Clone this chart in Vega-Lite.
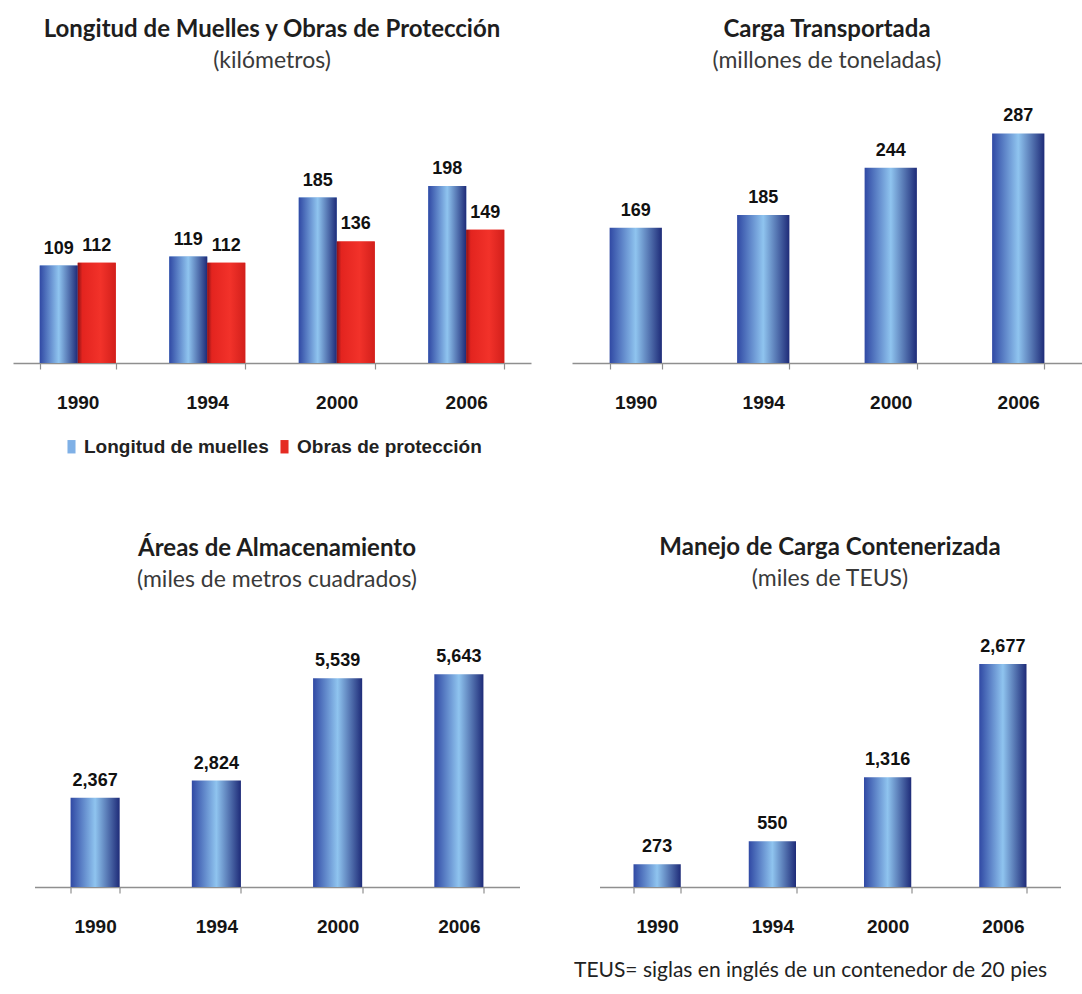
{
  "$schema": "https://vega.github.io/schema/vega-lite/v6.json",
  "background": "white",
  "padding": {"left": 13, "top": 18, "right": 0, "bottom": 5},
  "config": {
    "view": {"stroke": null},
    "font": "Lato",
    "axis": {
      "domainColor": "#8f8f8f", "domainWidth": 1.5,
      "tickColor": "#8f8f8f", "tickSize": 6, "tickWidth": 1.2, "tickBand": "extent",
      "labelFont": "Liberation Sans", "labelFontSize": 19, "labelFontWeight": "bold", "labelColor": "#151515",
      "labelPadding": 24, "grid": false, "labelAngle": 0
    },
    "title": {
      "font": "Lato", "fontSize": 24, "fontWeight": "bold", "color": "#1e1e1e",
      "subtitleFont": "Lato", "subtitleFontSize": 23, "subtitleColor": "#3a3a3a",
      "subtitlePadding": 8, "anchor": "middle", "frame": "group"
    },
    "legend": {
      "labelFont": "Liberation Sans", "labelFontSize": 19, "labelFontWeight": "bold", "labelColor": "#222222",
      "layout": {"bottom": {"anchor": "middle"}}
    }
  },
  "datasets": {
    "muelles": [
      {"anio": "1990", "serie": "Longitud de muelles", "valor": 109},
      {"anio": "1990", "serie": "Obras de protección", "valor": 112},
      {"anio": "1994", "serie": "Longitud de muelles", "valor": 119},
      {"anio": "1994", "serie": "Obras de protección", "valor": 112},
      {"anio": "2000", "serie": "Longitud de muelles", "valor": 185},
      {"anio": "2000", "serie": "Obras de protección", "valor": 136},
      {"anio": "2006", "serie": "Longitud de muelles", "valor": 198},
      {"anio": "2006", "serie": "Obras de protección", "valor": 149}
    ],
    "carga": [
      {"anio": "1990", "valor": 169},
      {"anio": "1994", "valor": 185},
      {"anio": "2000", "valor": 244},
      {"anio": "2006", "valor": 287}
    ],
    "areas": [
      {"anio": "1990", "valor": 2367},
      {"anio": "1994", "valor": 2824},
      {"anio": "2000", "valor": 5539},
      {"anio": "2006", "valor": 5643}
    ],
    "teus": [
      {"anio": "1990", "valor": 273},
      {"anio": "1994", "valor": 550},
      {"anio": "2000", "valor": 1316},
      {"anio": "2006", "valor": 2677}
    ]
  },
  "center": true,
  "spacing": 78,
  "resolve": {"scale": {"color": "independent"}, "legend": {"color": "independent"}},
  "vconcat": [
    {
      "spacing": 41,
      "resolve": {"scale": {"color": "independent"}, "legend": {"color": "independent"}},
      "hconcat": [
        {
          "width": 518, "height": 270,
          "title": {"text": "Longitud de Muelles y Obras de Protección", "subtitle": "(kilómetros)", "offset": 20},
          "data": {"name": "muelles"},
          "encoding": {
            "x": {"field": "anio", "type": "nominal", "scale": {"paddingInner": 0.413, "paddingOuter": 0.2065}, "axis": {"title": null}},
            "xOffset": {"field": "serie", "type": "nominal", "scale": {"paddingInner": 0, "paddingOuter": 0}},
            "y": {"field": "valor", "type": "quantitative", "scale": {"domain": [0, 302], "nice": false}, "axis": null}
          },
          "layer": [
            {
              "mark": {"type": "bar"},
              "encoding": {
                "color": {
                  "field": "serie", "type": "nominal",
                  "scale": {"range": ["#7fb0e6", "#e52b22"]},
                  "legend": {"orient": "bottom", "direction": "horizontal", "title": null, "symbolType": "M-0.6,-1H0.6V1H-0.6Z", "symbolSize": 180, "symbolStrokeWidth": 0, "offset": 25, "columnPadding": 6, "labelOffset": 3, "labelLimit": 400}
                }
              }
            },
            {
              "transform": [{"filter": "datum.serie == 'Longitud de muelles'"}],
              "mark": {"type": "bar", "color": {"gradient": "linear", "x1": 0, "x2": 1, "y1": 0, "y2": 0, "stops": [{"offset": 0, "color": "#3049a4"}, {"offset": 0.5, "color": "#8fc4ef"}, {"offset": 1, "color": "#1e2b78"}]}}
            },
            {
              "transform": [{"filter": "datum.serie == 'Obras de protección'"}],
              "mark": {"type": "bar", "color": {"gradient": "linear", "x1": 0, "x2": 1, "y1": 0, "y2": 0, "stops": [{"offset": 0, "color": "#8a1216"}, {"offset": 0.12, "color": "#e3241f"}, {"offset": 0.6, "color": "#f2322a"}, {"offset": 1, "color": "#d21f1b"}]}}
            },
            {
              "mark": {"type": "text", "baseline": "alphabetic", "dy": -12, "font": "Liberation Sans", "fontSize": 18, "fontWeight": "bold", "color": "#111111"},
              "encoding": {"text": {"field": "valor", "type": "quantitative"}}
            }
          ]
        },
        {
          "width": 510, "height": 270,
          "title": {"text": "Carga Transportada", "subtitle": "(millones de toneladas)", "offset": 20},
          "data": {"name": "carga"},
          "encoding": {
            "x": {"field": "anio", "type": "nominal", "scale": {"paddingInner": 0.59, "paddingOuter": 0.295}, "axis": {"title": null}},
            "y": {"field": "valor", "type": "quantitative", "scale": {"domain": [0, 337.5], "nice": false}, "axis": null}
          },
          "layer": [
            {
              "mark": {"type": "bar", "color": {"gradient": "linear", "x1": 0, "x2": 1, "y1": 0, "y2": 0, "stops": [{"offset": 0, "color": "#3049a4"}, {"offset": 0.5, "color": "#8fc4ef"}, {"offset": 1, "color": "#1e2b78"}]}}
            },
            {
              "mark": {"type": "text", "baseline": "alphabetic", "dy": -12, "font": "Liberation Sans", "fontSize": 18, "fontWeight": "bold", "color": "#111111"},
              "encoding": {"text": {"field": "valor", "type": "quantitative"}}
            }
          ]
        }
      ]
    },
    {
      "spacing": 54,
      "hconcat": [
        {
          "width": 485, "height": 248,
          "title": {"text": "Áreas de Almacenamiento", "subtitle": "(miles de metros cuadrados)", "offset": 47},
          "data": {"name": "areas"},
          "encoding": {
            "x": {"field": "anio", "type": "nominal", "scale": {"paddingInner": 0.595, "paddingOuter": 0.2975}, "axis": {"title": null}},
            "y": {"field": "valor", "type": "quantitative", "scale": {"domain": [0, 6578], "nice": false}, "axis": null}
          },
          "layer": [
            {
              "mark": {"type": "bar", "color": {"gradient": "linear", "x1": 0, "x2": 1, "y1": 0, "y2": 0, "stops": [{"offset": 0, "color": "#3049a4"}, {"offset": 0.5, "color": "#8fc4ef"}, {"offset": 1, "color": "#1e2b78"}]}}
            },
            {
              "mark": {"type": "text", "baseline": "alphabetic", "dy": -12, "font": "Liberation Sans", "fontSize": 18, "fontWeight": "bold", "color": "#111111"},
              "encoding": {"text": {"field": "valor", "type": "quantitative", "format": ",d"}}
            }
          ]
        },
        {
          "width": 461, "height": 248,
          "title": {"text": "Manejo de Carga Contenerizada", "subtitle": "(miles de TEUS)", "offset": 47},
          "data": {"name": "teus"},
          "encoding": {
            "x": {"field": "anio", "type": "nominal", "scale": {"paddingInner": 0.59, "paddingOuter": 0.295}, "axis": {"title": "TEUS= siglas en inglés de un  contenedor de 20 pies", "titleFont": "Lato", "titleFontSize": 21, "titleFontWeight": "normal", "titleColor": "#222222", "titlePadding": 23, "titleAnchor": "start", "titleAlign": "left", "titleX": -26}},
            "y": {"field": "valor", "type": "quantitative", "scale": {"domain": [0, 2977], "nice": false}, "axis": null}
          },
          "layer": [
            {
              "mark": {"type": "bar", "color": {"gradient": "linear", "x1": 0, "x2": 1, "y1": 0, "y2": 0, "stops": [{"offset": 0, "color": "#3049a4"}, {"offset": 0.5, "color": "#8fc4ef"}, {"offset": 1, "color": "#1e2b78"}]}}
            },
            {
              "mark": {"type": "text", "baseline": "alphabetic", "dy": -12, "font": "Liberation Sans", "fontSize": 18, "fontWeight": "bold", "color": "#111111"},
              "encoding": {"text": {"field": "valor", "type": "quantitative", "format": ",d"}}
            }
          ]
        }
      ]
    }
  ]
}
